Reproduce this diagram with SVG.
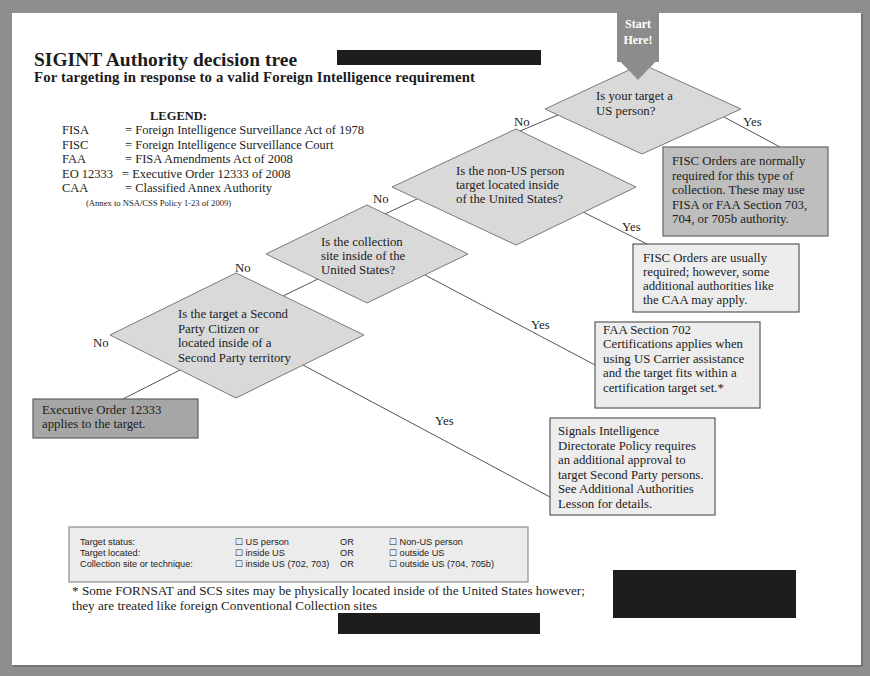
<svg xmlns="http://www.w3.org/2000/svg" width="870" height="676" viewBox="0 0 870 676">
<style>
.t{font-family:"Liberation Serif","Times New Roman",serif;fill:#1c1c1c;font-size:12.8px}
.b{font-weight:bold}
.s{font-family:"Liberation Sans",Arial,sans-serif;fill:#222;font-size:9.2px}
.dia{fill:#d9d9d9;stroke:#7a7a7a;stroke-width:1}
.lt{fill:#ededed;stroke:#5a5a5a;stroke-width:1.2}
.con{stroke:#555;stroke-width:1;fill:none}
.red{fill:#1e1c1d}
</style>
<rect x="0" y="0" width="870" height="676" fill="#8e8e8e"/>
<rect x="13" y="14" width="850" height="653" fill="#5a5a5a" opacity="0.5"/>
<rect x="12" y="13" width="849" height="652" fill="#ffffff"/>

<g id="title">
<text class="t b" x="34" y="66" style="font-size:19.5px">SIGINT Authority decision tree</text>
<text class="t b" x="34" y="82" style="font-size:14.8px" textLength="441">For targeting in response to a valid Foreign Intelligence requirement</text>
<rect class="red" x="337" y="50" width="204" height="15"/>
</g>

<g id="legend">
<text class="t b" x="150" y="120" style="font-size:12.5px">LEGEND:</text>
<text class="t" x="62" y="134" style="font-size:12.5px">FISA</text><text class="t" x="125" y="134" style="font-size:12.5px">= Foreign Intelligence Surveillance Act of 1978</text>
<text class="t" x="62" y="148.5" style="font-size:12.5px">FISC</text><text class="t" x="125" y="148.5" style="font-size:12.5px">= Foreign Intelligence Surveillance Court</text>
<text class="t" x="62" y="163" style="font-size:12.5px">FAA</text><text class="t" x="125" y="163" style="font-size:12.5px">= FISA Amendments Act of 2008</text>
<text class="t" x="62" y="177.5" style="font-size:12.5px">EO 12333</text><text class="t" x="122" y="177.5" style="font-size:12.5px">= Executive Order 12333 of 2008</text>
<text class="t" x="62" y="192" style="font-size:12.5px">CAA</text><text class="t" x="125" y="192" style="font-size:12.5px">= Classified Annex Authority</text>
<text class="t" x="86" y="206" style="font-size:8.6px">(Annex to NSA/CSS Policy 1-23 of 2009)</text>
</g>

<g id="connectors">
<line class="con" x1="558" y1="115" x2="520" y2="131"/>
<line class="con" x1="724" y1="117" x2="780" y2="147"/>
<line class="con" x1="417" y1="199" x2="385" y2="214"/>
<line class="con" x1="583" y1="212" x2="647" y2="244"/>
<line class="con" x1="318" y1="279" x2="283" y2="296"/>
<line class="con" x1="425" y1="275" x2="595" y2="365"/>
<line class="con" x1="180" y1="370" x2="123" y2="399"/>
<line class="con" x1="303" y1="365" x2="550" y2="497"/>
<text class="t" x="514" y="126">No</text>
<text class="t" x="743" y="126">Yes</text>
<text class="t" x="373" y="203">No</text>
<text class="t" x="622" y="231">Yes</text>
<text class="t" x="235" y="272">No</text>
<text class="t" x="531" y="329">Yes</text>
<text class="t" x="93" y="347">No</text>
<text class="t" x="435" y="425">Yes</text>
</g>

<g id="start">
<path d="M617,13 H659 V62 H655 L638,80 L621,62 H617 Z" fill="#8c8c8c"/>
<text class="t b" x="638" y="28" text-anchor="middle" style="fill:#fff;font-size:12px">Start</text>
<text class="t b" x="638" y="44" text-anchor="middle" style="fill:#fff;font-size:12px">Here!</text>
</g>

<g id="q1">
<polygon class="dia" points="642,64 741,109 642,154 545,109"/>
<path d="M621,62 L638,80 L655,62 Z" fill="#8c8c8c"/>
<text class="t" x="596" y="100">Is your target a</text>
<text class="t" x="596" y="115">US person?</text>
</g>

<g id="q2">
<polygon class="dia" points="516,129 636,187 516,245 392,187"/>
<text class="t" x="456" y="175">Is the non-US person</text>
<text class="t" x="456" y="189">target located inside</text>
<text class="t" x="456" y="203">of the United States?</text>
</g>

<g id="q3">
<polygon class="dia" points="367,205 468,254 367,303 266,254"/>
<text class="t" x="321" y="246">Is the collection</text>
<text class="t" x="321" y="260">site inside of the</text>
<text class="t" x="321" y="274">United States?</text>
</g>

<g id="q4">
<polygon class="dia" points="236,273 364,335 236,398 110,335"/>
<text class="t" x="178" y="318">Is the target a Second</text>
<text class="t" x="178" y="332.5">Party Citizen or</text>
<text class="t" x="178" y="347">located inside of a</text>
<text class="t" x="178" y="361.5">Second Party territory</text>
</g>

<g id="fisc-normally">
<rect x="663" y="147" width="165" height="89" fill="#bebebe" stroke="#666" stroke-width="1.2"/>
<text class="t" x="672" y="165">FISC Orders are normally</text>
<text class="t" x="672" y="179.5">required for this type of</text>
<text class="t" x="672" y="194">collection.  These may use</text>
<text class="t" x="672" y="208.5">FISA or FAA Section 703,</text>
<text class="t" x="672" y="223">704, or 705b authority.</text>
</g>

<g id="fisc-usually">
<rect class="lt" x="633" y="244" width="166" height="68"/>
<text class="t" x="643" y="262">FISC Orders are usually</text>
<text class="t" x="643" y="276">required; however, some</text>
<text class="t" x="643" y="290">additional authorities like</text>
<text class="t" x="643" y="304">the CAA may apply.</text>
</g>

<g id="faa702">
<rect class="lt" x="595" y="322" width="165" height="86"/>
<text class="t" x="603" y="333.5">FAA Section 702</text>
<text class="t" x="603" y="348">Certifications applies when</text>
<text class="t" x="603" y="362.5">using US Carrier assistance</text>
<text class="t" x="603" y="377">and the target fits within a</text>
<text class="t" x="603" y="391.5">certification target set.*</text>
</g>

<g id="sid-policy">
<rect class="lt" x="550" y="418" width="165" height="97"/>
<text class="t" x="558" y="435">Signals Intelligence</text>
<text class="t" x="558" y="449.5">Directorate Policy requires</text>
<text class="t" x="558" y="464">an additional approval to</text>
<text class="t" x="558" y="478.5">target Second Party persons.</text>
<text class="t" x="558" y="493">See Additional Authorities</text>
<text class="t" x="558" y="507.5">Lesson for details.</text>
</g>

<g id="eo12333">
<rect x="33" y="399" width="165" height="39" fill="#a6a6a6" stroke="#606060" stroke-width="1.2"/>
<text class="t" x="42" y="413.5">Executive Order 12333</text>
<text class="t" x="42" y="428">applies to the target.</text>
</g>

<g id="checklist">
<rect x="69" y="527" width="459" height="55" fill="#ececec" stroke="#8a8a8a" stroke-width="1.2"/>
<text class="s" x="80" y="545">Target status:</text>
<text class="s" x="235" y="545">☐ US person</text>
<text class="s" x="340" y="545">OR</text>
<text class="s" x="389" y="545">☐ Non-US person</text>
<text class="s" x="80" y="556">Target located:</text>
<text class="s" x="235" y="556">☐ inside US</text>
<text class="s" x="340" y="556">OR</text>
<text class="s" x="389" y="556">☐ outside US</text>
<text class="s" x="80" y="567">Collection site or technique:</text>
<text class="s" x="235" y="567">☐ inside US (702, 703)</text>
<text class="s" x="340" y="567">OR</text>
<text class="s" x="389" y="567">☐ outside US (704, 705b)</text>
</g>

<g id="footnote">
<text class="t" x="72" y="595" style="font-size:13.2px">* Some FORNSAT and SCS sites may be physically located inside of the United States however;</text>
<text class="t" x="72" y="610" style="font-size:13.2px">they are treated like foreign Conventional Collection sites</text>
</g>

<g id="redactions">
<rect class="red" x="613" y="570" width="183" height="48"/>
<rect class="red" x="338" y="613" width="202" height="21"/>
</g>
</svg>
